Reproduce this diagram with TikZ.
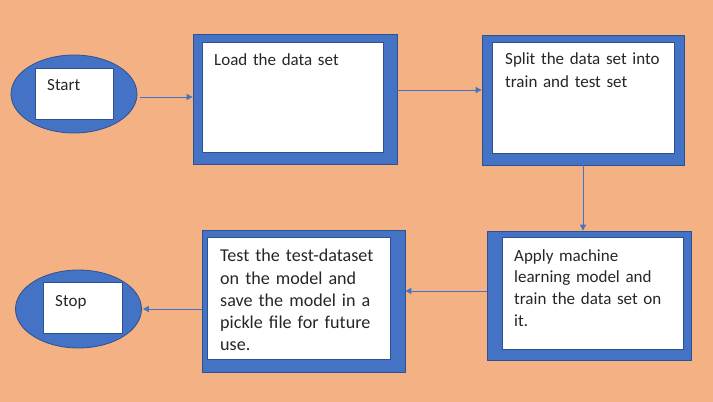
\documentclass[tikz,border=0pt]{standalone}
\usepackage{fontspec}
\setmainfont{Carlito}
\usetikzlibrary{shapes.geometric,arrows.meta}
\definecolor{bgor}{HTML}{F4B183}
\definecolor{accblue}{HTML}{4472C4}
\definecolor{darkblue}{HTML}{2F528F}
\tikzset{
  outerbox/.style={draw=darkblue, line width=0.8pt, fill=accblue, minimum width=#1, inner sep=0pt},
  innerbox/.style={draw=darkblue, line width=0.6pt, fill=white, inner sep=0pt},
  oval/.style={ellipse, draw=darkblue, line width=0.8pt, fill=accblue, inner sep=0pt, minimum width=126pt, minimum height=78pt},
  lbl/.style={anchor=north west, align=left, inner sep=0pt, font=\fontsize{17}{22}\selectfont, text=black!85},
  arr/.style={draw=accblue, line width=0.9pt, -{Triangle[length=6pt,width=6pt]}}
}
\begin{document}
\begin{tikzpicture}[x=1pt,y=-1pt]
\fill[bgor] (0,0) rectangle (713,402);
\useasboundingbox (0,0) rectangle (713,402);
% Start
\node[oval] (start) at (74,94) {};
\node[innerbox, minimum width=78pt, minimum height=51pt] (startin) at (74,93.5) {};
\node[lbl] (starttxt) at (47,79) {Start};
% Load
\node[outerbox=204pt, minimum height=130pt] (load) at (295,99) {};
\node[innerbox, minimum width=181pt, minimum height=110pt] (loadin) at (292.5,97) {};
\node[lbl, text width=170pt] (loadtxt) at (214,53) {Load the data set};
% Split
\node[outerbox=202pt, minimum height=130pt] (split) at (583,100) {};
\node[innerbox, minimum width=182pt, minimum height=111pt] (splitin) at (583,97.5) {};
\node[lbl, text width=175pt, font=\fontsize{17}{23}\selectfont] (splittxt) at (505,52) {Split the data set into\\train and test set};
% Apply
\node[outerbox=204pt, minimum height=129pt] (apply) at (589,295.5) {};
\node[innerbox, minimum width=181pt, minimum height=112pt] (applyin) at (592.5,293) {};
\node[lbl, text width=170pt, font=\fontsize{17}{21.7}\selectfont] (applytxt) at (514,249) {Apply machine\\learning model and\\train the data set on\\it.};
% Test
\node[outerbox=203pt, minimum height=142pt] (test) at (303.5,301) {};
\node[innerbox, minimum width=183pt, minimum height=122pt] (testin) at (298.5,298) {};
\node[lbl, text width=180pt, font=\fontsize{18.1}{22.3}\selectfont] (testtxt) at (220,249) {Test the test-dataset\\on the model and\\save the model in a\\pickle file for future\\use.};
% Stop
\node[oval] (stop) at (78.5,309) {};
\node[innerbox, minimum width=79pt, minimum height=51pt] (stopin) at (82.5,307.5) {};
\node[lbl] (stoptxt) at (55,295) {Stop};
% connectors
\draw[arr] ([xshift=3pt,yshift=-3pt]start.east) -- ([yshift=-3pt]start.east -| load.west);
\draw[arr] ([yshift=9pt]load.east) -- ([yshift=9pt]load.east -| split.west);
\draw[arr] (split.south) -- (split.south |- apply.north);
\draw[arr] ([yshift=4.5pt]apply.west) -- ([yshift=4.5pt]apply.west -| test.east);
\draw[arr] (test.west |- stop.east) -- ([xshift=1pt]stop.east);
\end{tikzpicture}
\end{document}
